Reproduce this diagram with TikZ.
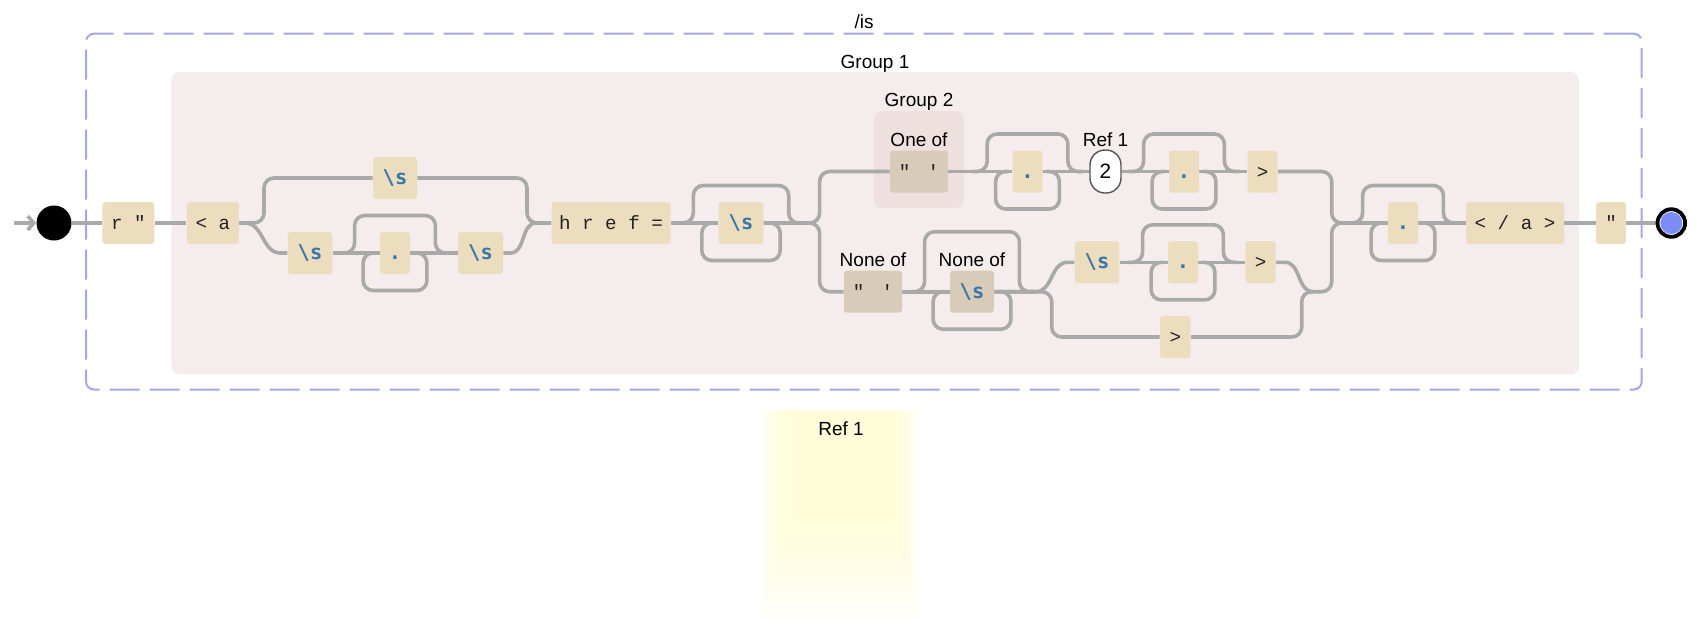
\documentclass[tikz,border=0pt]{standalone}
\usepackage{fontspec}
\setmainfont{Liberation Sans}
\newfontfamily\litfont{Liberation Mono}
\newfontfamily\escfont{DejaVu Sans Mono}
\usetikzlibrary{calc,arrows.meta}
\pgfdeclarelayer{bg}\pgfdeclarelayer{lines}
\pgfsetlayers{bg,lines,main}
\definecolor{linegray}{HTML}{A9A9A9}
\definecolor{boxtan}{HTML}{ECDDBF}
\definecolor{darktan}{HTML}{D9CBBA}
\definecolor{gonefill}{HTML}{F5EDED}
\definecolor{gtwofill}{HTML}{EFE0E0}
\definecolor{dashblue}{HTML}{A3A6E8}
\definecolor{escblue}{HTML}{3A76A6}
\definecolor{endblue}{HTML}{7C8DF7}
\definecolor{glowyel}{HTML}{FFFBC8}
\definecolor{refedge}{HTML}{555555}
\definecolor{littext}{HTML}{222222}
\tikzset{
  conn/.style={draw=linegray, line width=1.8pt},
  lit/.style={fill=boxtan, rounded corners=1.5pt, minimum height=21pt, inner sep=0pt,
    text height=8.5pt, text depth=2pt, text=littext, font=\litfont\fontsize{9.6}{11}\selectfont},
  esc/.style={lit, font=\escfont\bfseries\fontsize{10.2}{12}\selectfont, text=escblue},
  dark/.style={fill=darktan},
  lab/.style={font=\fontsize{9.5}{11}\selectfont, anchor=base, inner sep=0pt},
}
\newcommand\skipabove[2][37.5]{%
  \draw[conn, rounded corners=5pt] ($(#2.west)+(-40,0)$) -- ($(#2.west)+(-25,0)$) -- ($(#2.west)+(-25,-#1)$) -- ($(#2.east)+(25,-#1)$) -- ($(#2.east)+(25,0)$) -- ($(#2.east)+(40,0)$);}
\newcommand\loopbelow[1]{%
  \draw[conn, rounded corners=5pt] ($(#1.west)+(-4,0)$) -- ($(#1.west)+(-16.5,0)$) -- ($(#1.west)+(-16.5,37.5)$) -- ($(#1.east)+(16.5,37.5)$) -- ($(#1.east)+(16.5,0)$) -- ($(#1.east)+(4,0)$);}
\begin{document}
\begin{tikzpicture}[x=0.5pt, y=-0.5pt]
\useasboundingbox (0,0) rectangle (1706,618);
% ---------- backgrounds ----------
\begin{pgfonlayer}{bg}
\node[draw=dashblue, line width=1pt, dash pattern=on 15pt off 5pt, rounded corners=4pt,
      minimum width=777.85pt, minimum height=177.9pt, inner sep=0pt] (outer) at (863.85,211.6) {};
\node[fill=gonefill, rounded corners=4pt, minimum width=703.8pt, minimum height=151.15pt, inner sep=0pt] (gone) at (875.2,223.15) {};
\node[fill=gtwofill, rounded corners=4pt, minimum width=45pt, minimum height=48.5pt, inner sep=0pt] (gtwo) at (919,159.5) {};
\node[minimum width=79.15pt, minimum height=103.65pt, inner sep=0pt] (glow) at (840.85,514.35) {};
\foreach \i in {0,...,7}{
  \fill[glowyel, opacity=0.13] ($(glow.north west)+(\i*3.5,0)$) rectangle ($(glow.south east)+(-\i*3.5,-\i*14)$);
}
\end{pgfonlayer}
% ---------- labels ----------
\node[lab] (lis) at (864,28.3) {/is};
\node[lab] (lgone) at (875,68.3) {Group 1};
\node[lab] (lgtwo) at (919,106) {Group 2};
\node[lab] (lone) at (919,146) {One of};
\node[lab] (lref) at (1105.5,146) {Ref 1};
\node[lab] (lnoneA) at (873,266.7) {None of};
\node[lab] (lnoneB) at (972,266.7) {None of};
\node[lab] (lrefb) at (841,435) {Ref 1};
% ---------- nodes ----------
\coordinate (a0) at (14,223);
\node[circle, fill=black, minimum size=17.5pt, inner sep=0pt] (start) at (54,223) {};
\node[lit, minimum width=26pt] (rq) at (128.4,223) {r \symbol{34}};
\node[lit, minimum width=26pt] (lta) at (212.8,223) {< a};
\node[esc, minimum width=22pt] (stop) at (395,178) {\textbackslash s};
\node[esc, minimum width=22.25pt] (sa) at (310,253) {\textbackslash s};
\node[esc, minimum width=15pt] (da) at (395,253) {.};
\node[esc, minimum width=22.5pt] (sb) at (480.5,253) {\textbackslash s};
\node[lit, minimum width=59.5pt] (href) at (611,223) {h r e f =};
\node[esc, minimum width=22.3pt] (sc) at (741,223) {\textbackslash s};
\node[lit, dark, minimum width=29pt] (gq) at (919,171.5) {\symbol{34}\hspace{8.5pt}\symbol{39}};
\node[esc, minimum width=15pt] (db) at (1027.5,171.5) {.};
\node[draw=refedge, fill=white, line width=0.7pt, rounded corners=7.5pt, minimum width=15.5pt,
      minimum height=21.5pt, inner sep=0pt, font=\fontsize{10.4}{12}\selectfont] (ref) at (1105.5,171.5) {2};
\node[esc, minimum width=15pt] (dc) at (1184,171.5) {.};
\node[lit, minimum width=15pt] (gta) at (1262.6,171.5) {>};
\node[lit, dark, minimum width=29pt] (nq) at (873,291.7) {\symbol{34}\hspace{8.5pt}\symbol{39}};
\node[esc, dark, minimum width=22pt] (ns) at (972,291.7) {\textbackslash s};
\node[esc, minimum width=22.25pt] (sd) at (1097,262.3) {\textbackslash s};
\node[esc, minimum width=15pt] (dd) at (1183,262.3) {.};
\node[lit, minimum width=15pt] (gtb) at (1260.6,262.3) {>};
\node[lit, minimum width=15.3pt] (gtc) at (1175.3,337) {>};
\node[esc, minimum width=15pt] (de) at (1403,223) {.};
\node[lit, minimum width=49pt] (ea) at (1515,223) {< / a >};
\node[lit, minimum width=15pt] (eq) at (1611,223) {\symbol{34}};
\node[circle, draw=black, line width=1.9pt, fill=white, minimum size=13.8pt, inner sep=0pt] (end) at (1671.3,223) {};
\node[circle, fill=endblue, minimum size=11pt, inner sep=0pt] (endin) at (end.center) {};
% junction coordinates
\coordinate (ca) at (264,223);
\coordinate (cb) at (527,223);
\coordinate (cc) at (819.6,223);
\coordinate (cd) at (1331.7,223);
\coordinate (ce) at (1036,291.7);
\coordinate (cf) at (1051.7,291.7);
\coordinate (cg) at (1313,291.7);
\coordinate (ch) at (1301.7,291.7);
% ---------- connectors ----------
\begin{pgfonlayer}{lines}
\draw[conn, -{Straight Barb[length=3pt, width=7pt]}] (a0) -- (start.west);
\draw[conn] (start.east) -- (rq.west);
\draw[conn] (rq.east) -- (lta.west);
\draw[conn, rounded corners=5pt] (lta.east) -- (ca) |- (stop.west);
\draw[conn, rounded corners=5pt] (stop.east) -| (cb) -- (href.west);
\draw[conn] (lta.east) -- ++(6,0) to[out=0, in=180] ($(sa.west)+(-7,0)$) -- (sa.west);
\draw[conn] (sa.east) -- (da.west);
\draw[conn] (da.east) -- (sb.west);
\skipabove{da}
\loopbelow{da}
\draw[conn] (sb.east) -- ++(7,0) to[out=0, in=180] ($(href.west)+(-15,0)$) -- (href.west);
\draw[conn] (href.east) -- (sc.west);
\skipabove{sc}
\loopbelow{sc}
\draw[conn, rounded corners=5pt] (sc.east) -- (cc) |- (gq.west);
\draw[conn, rounded corners=5pt] (sc.east) -- (cc) |- (nq.west);
% upper row
\draw[conn] (gq.east) -- (db.west);
\skipabove{db}
\loopbelow{db}
\draw[conn] (db.east) -- (ref.west);
\draw[conn] (ref.east) -- (dc.west);
\skipabove{dc}
\loopbelow{dc}
\draw[conn] (dc.east) -- (gta.west);
\draw[conn, rounded corners=5pt] (gta.east) -| (cd) -- (de.west);
% lower rows
\draw[conn] (nq.east) -- (ns.west);
\skipabove[60]{ns}
\loopbelow{ns}
\draw[conn] (ns.east) -- (ce) to[out=0, in=180] ($(sd.west)+(-7,0)$) -- (sd.west);
\draw[conn, rounded corners=5pt] (ns.east) -- (cf) |- (gtc.west);
\draw[conn] (sd.east) -- (dd.west);
\skipabove{dd}
\loopbelow{dd}
\draw[conn] (dd.east) -- (gtb.west);
\draw[conn] (gtb.east) -- ++(9,0) to[out=0, in=180] (cg);
\draw[conn, rounded corners=5pt] (cg) -| (cd) -- (de.west);
\draw[conn, rounded corners=5pt] (gtc.east) -| (ch) -- (cg);
% tail
\skipabove{de}
\loopbelow{de}
\draw[conn] (de.east) -- (ea.west);
\draw[conn] (ea.east) -- (eq.west);
\draw[conn] (eq.east) -- (end.west);
\end{pgfonlayer}
\end{tikzpicture}
\end{document}
